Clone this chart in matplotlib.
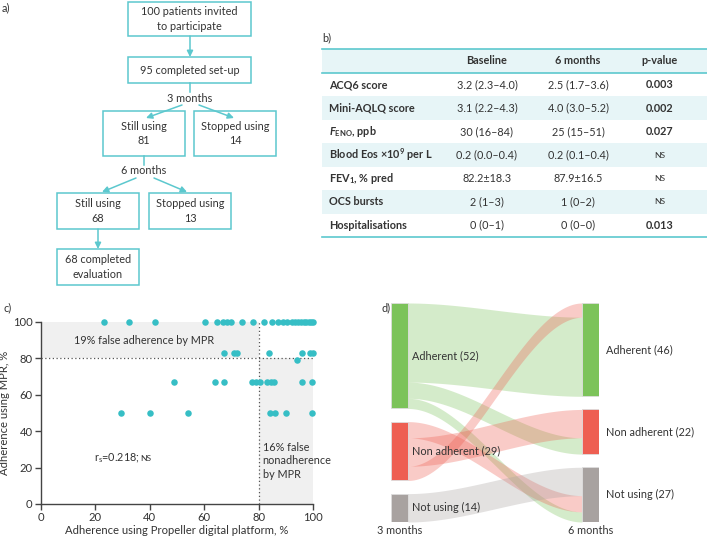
import numpy as np
import matplotlib.pyplot as plt
from matplotlib.patches import Rectangle

plt.rcParams['font.family'] = ['Lato', 'DejaVu Sans']
plt.rcParams['mathtext.fontset'] = 'custom'
plt.rcParams['mathtext.rm'] = 'Lato'
plt.rcParams['mathtext.it'] = 'Lato:italic:bold'
plt.rcParams['mathtext.bf'] = 'Lato:bold'

TEAL = '#36BEC5'
BOX = '#5CC8CE'
TXT = '#333333'
SHADE = '#F0F0F0'
ROWBG = '#E7F5F7'

# ---- a) flowchart counts
invited, setup = 100, 95
still_3m, stopped_3m = 81, 14
still_6m, stopped_6m = 68, 13
evaluated = 68

# ---- b) table
table_cols = ["Baseline", "6 months", "p-value"]
table_rows = ["ACQ6 score", "Mini-AQLQ score", r"$\mathit{F}_{\mathbf{ENO}}$, ppb",
              r"Blood Eos ×10$^{\mathbf{9}}$ per L", r"FEV$_{\mathbf{1}}$, % pred",
              "OCS bursts", "Hospitalisations"]
baseline = ["3.2 (2.3–4.0)", "3.1 (2.2–4.3)", "30 (16–84)", "0.2 (0.0–0.4)",
            "82.2±18.3", "2 (1–3)", "0 (0–1)"]
six_months = ["2.5 (1.7–3.6)", "4.0 (3.0–5.2)", "25 (15–51)", "0.2 (0.1–0.4)",
              "87.9±16.5", "1 (0–2)", "0 (0–0)"]
p_values = ["0.003", "0.002", "0.027", "NS", "NS", "NS", "0.013"]

# ---- c) scatter: Propeller adherence vs MPR adherence
prop_100 = [23.3, 32.4, 41.9, 60.2, 64.7, 66.8, 68.2, 70, 73.8, 77.8, 82, 85, 87.3, 89,
            90.3, 92.3, 93.5, 94.5, 95.6, 96.6, 97.6, 98.6, 99.4, 100]
prop_83 = [67.2, 70.8, 72.2, 84, 96, 98.9, 100]
prop_79 = [94]
prop_67 = [49, 64, 67.2, 77.4, 79, 80.5, 83, 84.4, 85.8, 96, 99.7]
prop_50 = [29.3, 40.2, 53.9, 84.3, 85.9, 90, 99.7]
mpr_levels = [100, 83, 79, 67, 50]

# ---- d) sankey 3 months -> 6 months
states = ["Adherent", "Non adherent", "Not using"]
state_colors = ['#7CC35A', '#EE5F52', '#A8A2A0']
flows = {  # (from, to): n
    (0, 0): 39, (0, 1): 8, (0, 2): 5,
    (1, 0): 7, (1, 1): 14, (1, 2): 8,
    (2, 2): 14,
}
left_order = {0: [0, 1, 2], 1: [2, 1, 0], 2: [2]}
right_order = {0: [1, 0], 1: [1, 0], 2: [2, 1, 0]}

W, H = 707, 538
fig = plt.figure(figsize=(W / 100, H / 100), dpi=100)
cv = fig.add_axes([0, 0, 1, 1])
cv.set_xlim(0, W)
cv.set_ylim(H, 0)
cv.axis('off')

fs = 7.8

# ---------------- a) flowchart
cv.text(2, 8, "a)", fontsize=fs, color=TXT, va='center')


def box(x0, y0, x1, y1, text):
    cv.add_patch(Rectangle((x0, y0), x1 - x0, y1 - y0, fill=False, ec=BOX, lw=1.1))
    cv.text((x0 + x1) / 2, (y0 + y1) / 2, text, ha='center', va='center',
            fontsize=fs, color=TXT, linespacing=1.35)


def arrow(x0, y0, x1, y1):
    cv.annotate("", xy=(x1, y1), xytext=(x0, y0),
                arrowprops=dict(arrowstyle='-|>', color=BOX, lw=1.1,
                                mutation_scale=9, shrinkA=0, shrinkB=0))


box(128, 2, 251, 36, f"{invited} patients invited\nto participate")
box(128, 57, 251, 83, f"{setup} completed set-up")
box(103, 111, 185, 156, f"Still using\n{still_3m}")
box(194, 111, 276, 156, f"Stopped using\n{stopped_3m}")
box(57, 193, 139, 229, f"Still using\n{still_6m}")
box(149, 193, 231, 229, f"Stopped using\n{stopped_6m}")
box(57, 249, 139, 285, f"{evaluated} completed\nevaluation")

arrow(190, 36, 190, 57)
cv.plot([190, 190], [83, 92], color=BOX, lw=1.1)
cv.text(190, 98, "3 months", ha='center', va='center', fontsize=fs, color=TXT)
arrow(182, 105, 146, 118)
arrow(199, 105, 234, 118)
cv.plot([144, 144], [156, 165], color=BOX, lw=1.1)
cv.text(144, 171, "6 months", ha='center', va='center', fontsize=fs, color=TXT)
arrow(136, 178, 102, 192)
arrow(154, 178, 187, 192)
arrow(98, 229, 98, 249)

# ---------------- b) table
cv.text(322, 38, "b)", fontsize=fs, color=TXT, va='center')
tx0, tx1 = 322, 707
head_top, head_bot, tbl_bot = 49, 73, 237
row_h = (tbl_bot - head_bot) / len(table_rows)
cv.add_patch(Rectangle((tx0, head_top), tx1 - tx0, head_bot - head_top, color=ROWBG, lw=0))
col_x = [487, 578, 660]
for cx, name in zip(col_x, table_cols):
    cv.text(cx, (head_top + head_bot) / 2, name, ha='center', va='center',
            fontsize=fs, fontweight='bold', color=TXT)
for i, (lab, b, s, p) in enumerate(zip(table_rows, baseline, six_months, p_values)):
    y0 = head_bot + i * row_h
    yc = y0 + row_h / 2
    if i % 2 == 1:
        cv.add_patch(Rectangle((tx0, y0), tx1 - tx0, row_h, color=ROWBG, lw=0))
    cv.text(329, yc, lab, ha='left', va='center', fontsize=fs, fontweight='bold', color=TXT)
    cv.text(col_x[0], yc, b, ha='center', va='center', fontsize=fs, color=TXT)
    cv.text(col_x[1], yc, s, ha='center', va='center', fontsize=fs, color=TXT)
    if p == "NS":
        cv.text(col_x[2], yc, p, ha='center', va='center', fontsize=fs * 0.78, color=TXT)
    else:
        cv.text(col_x[2], yc, p, ha='center', va='center', fontsize=fs,
                fontweight='bold', color=TXT)
for y in (head_top, head_bot, tbl_bot):
    cv.plot([tx0, tx1], [y, y], color=BOX, lw=1.2)

# ---------------- c) scatter
cv.text(3, 308, "c)", fontsize=fs, color=TXT, va='center')
ax = fig.add_axes([41 / W, 1 - 504 / H, 272 / W, 182 / H])
ax.add_patch(Rectangle((0, 80), 80, 20, color=SHADE, lw=0, zorder=0))
ax.add_patch(Rectangle((80, 0), 20, 80, color=SHADE, lw=0, zorder=0))
ax.plot([0, 100], [80, 80], ls=(0, (1, 2)), color='#555555', lw=0.9)
ax.plot([80, 80], [0, 100], ls=(0, (1, 2)), color='#555555', lw=0.9)
for lvl, xs in zip(mpr_levels, [prop_100, prop_83, prop_79, prop_67, prop_50]):
    ax.scatter(xs, [lvl] * len(xs), s=22, color=TEAL, lw=0, zorder=3, clip_on=False)
ax.set_xlim(0, 100)
ax.set_ylim(0, 100)
ax.set_xticks(range(0, 101, 20))
ax.set_yticks(range(0, 101, 20))
for sp in ('top', 'right'):
    ax.spines[sp].set_visible(False)
for sp in ('left', 'bottom'):
    ax.spines[sp].set_color('#444444')
    ax.spines[sp].set_linewidth(1)
ax.tick_params(labelsize=fs + 0.3, colors='#444444', length=4, width=1, labelcolor=TXT, pad=2)
ax.set_xlabel("Adherence using Propeller digital platform, %", fontsize=fs + 0.3,
              color=TXT, labelpad=1)
ax.set_ylabel("Adherence using MPR, %", fontsize=fs + 0.3, color=TXT, labelpad=2)
ax.text(12, 90, "19% false adherence by MPR", fontsize=fs, color=TXT, va='center')
ax.text(81.5, 34, "16% false\nnonadherence\nby MPR", fontsize=fs, color=TXT, va='top',
        linespacing=1.25)
rs = ax.text(19.5, 25, r"r$_\mathregular{s}$=0.218; ", fontsize=fs, color=TXT, va='center')
ax.annotate("NS", xy=(1, 0.5), xycoords=rs, ha='left', va='center',
            fontsize=fs * 0.78, color=TXT)

# ---------------- d) sankey
cv.text(381, 308, "d)", fontsize=fs, color=TXT, va='center')
sx = fig.add_axes([391 / W, 1 - 522 / H, 208 / W, 219 / H])
sx.axis('off')
gap = 6.5
left_tot = [sum(v for (a, b), v in flows.items() if a == k) for k in range(3)]
right_tot = [sum(v for (a, b), v in flows.items() if b == k) for k in range(3)]
total = sum(left_tot) + 2 * gap
sx.set_xlim(0, 1)
sx.set_ylim(total, 0)
nw = 0.082

left_top = np.concatenate([[0], np.cumsum(left_tot)[:-1]]) + np.arange(3) * gap
right_top = np.concatenate([[0], np.cumsum(right_tot)[:-1]]) + np.arange(3) * gap

# positions of each flow at both ends
lpos, rpos = {}, {}
for k in range(3):
    y = left_top[k]
    for d in left_order[k]:
        lpos[(k, d)] = y
        y += flows[(k, d)]
    y = right_top[k]
    for s in right_order[k]:
        rpos[(s, k)] = y
        y += flows[(s, k)]

xs = np.linspace(nw, 1 - nw, 200)
t = (xs - nw) / (1 - 2 * nw)
sm = 3 * t ** 2 - 2 * t ** 3
for (s, d), n in flows.items():
    top = lpos[(s, d)] + (rpos[(s, d)] - lpos[(s, d)]) * sm
    sx.fill_between(xs, top, top + n, color=state_colors[s], alpha=0.32, lw=0)

for k in range(3):
    sx.add_patch(Rectangle((0, left_top[k]), nw, left_tot[k], color=state_colors[k],
                           ec='#DDDDDD', lw=0.6, zorder=3))
    sx.add_patch(Rectangle((1 - nw, right_top[k]), nw, right_tot[k], color=state_colors[k],
                           ec='#DDDDDD', lw=0.6, zorder=3))
    sx.text(nw + 0.02, left_top[k] + left_tot[k] / 2, f"{states[k]} ({left_tot[k]})",
            fontsize=fs, color=TXT, va='center', zorder=4)
    sx.text(1 + 0.035, right_top[k] + right_tot[k] / 2, f"{states[k]} ({right_tot[k]})",
            fontsize=fs, color=TXT, va='center', zorder=4)
sx.text(nw / 2, total + 4, "3 months", fontsize=fs, color=TXT, ha='center', va='center')
sx.text(1 - nw / 2, total + 4, "6 months", fontsize=fs, color=TXT, ha='center', va='center')

fig.savefig("out.png", dpi=100)
